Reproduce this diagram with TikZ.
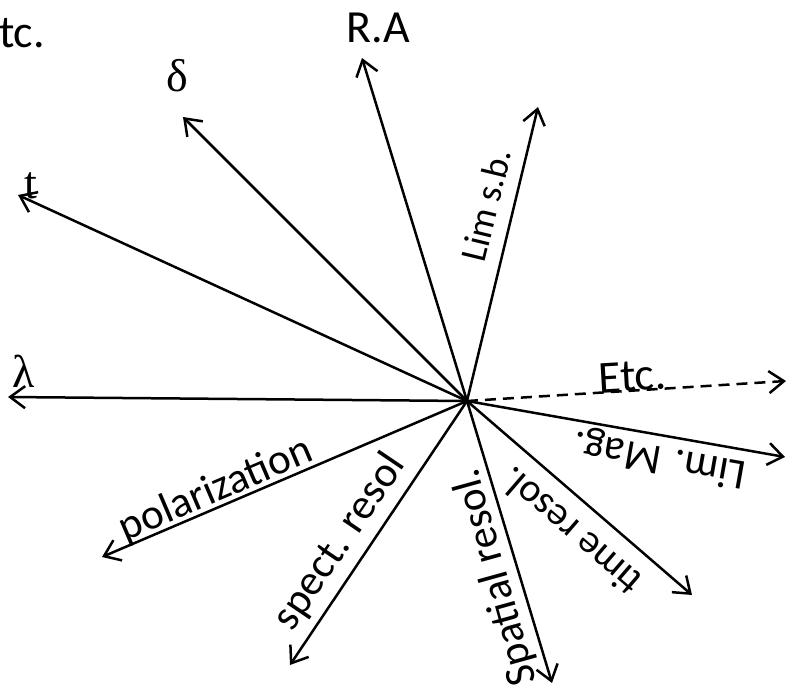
\documentclass[tikz,border=0pt]{standalone}
\usepackage{fontspec}
\setmainfont{Carlito}
\newfontfamily\serifgr{Liberation Serif}
\usetikzlibrary{arrows.meta}
\begin{document}
\begin{tikzpicture}[x=1pt,y=-1pt,
  ax/.style={line width=2.5pt,-{Straight Barb[length=15pt,width=22pt,line width=2.5pt]}},
  big/.style={font=\fontsize{46}{50}\selectfont, inner sep=0pt},
  lbl/.style={font=\fontsize{43}{48}\selectfont, inner sep=0pt},
  mid/.style={font=\fontsize{40}{44}\selectfont, inner sep=0pt},
  small/.style={font=\fontsize{37}{42}\selectfont, inner sep=0pt},
  greek/.style={font=\serifgr\fontsize{46}{50}\selectfont, inner sep=0pt}]
\useasboundingbox (0,0) rectangle (788,688);
\clip (0,0) rectangle (788,688);
% centre and tips
\coordinate (c) at (467,401);
\coordinate (tRA) at (362,58);
\coordinate (tdelta) at (183,117);
\coordinate (tt) at (18,195);
\coordinate (tlam) at (8,397);
\coordinate (tpol) at (102,557);
\coordinate (tspec) at (290,665);
\coordinate (tspat) at (552,683);
\coordinate (ttime) at (692,595);
\coordinate (tmag) at (785,457);
\coordinate (tetc) at (786,381);
\coordinate (tsb) at (538,107);
% arrows
\draw[ax] (c) -- (tRA);
\draw[ax] (c) -- (tdelta);
\draw[ax] (c) -- (tt);
\draw[ax] (c) -- (tlam);
\draw[ax] (c) -- (tpol);
\draw[ax] (c) -- (tspec);
\draw[ax] (c) -- (tspat);
\draw[ax] (c) -- (ttime);
\draw[ax] (c) -- (tmag);
\draw[ax] (c) -- (tsb);
\draw[ax, dash pattern=on 11pt off 7pt] (c) -- (tetc);
% labels
\node[big, anchor=base west] (etctop) at (-23,47) {Etc.};
\node[big] (ra) at (378,28) {R.A};
\node[greek] (delta) at (177,76) {δ};
\node[greek] (tlbl) at (31,186) {t};
\node[greek] (lam) at (24,371) {λ};
\node[small, rotate=76.4] (sb) at (486,205) {Lim s.b.};
\node[big, rotate=3.4, anchor=base] (etc) at (633,391) {Etc.};
\node[lbl, rotate=170] (mag) at (660,458) {Lim. Mag.};
\node[mid, rotate=139.2] (time) at (570,532) {time resol.};
\node[lbl, rotate=105.5] (spat) at (496,577) {Spatial resol.};
\node[lbl, rotate=55.9] (spec) at (340,542) {spect. resol};
\node[lbl, rotate=23.1] (pol) at (216,490) {polarization};
\end{tikzpicture}
\end{document}
